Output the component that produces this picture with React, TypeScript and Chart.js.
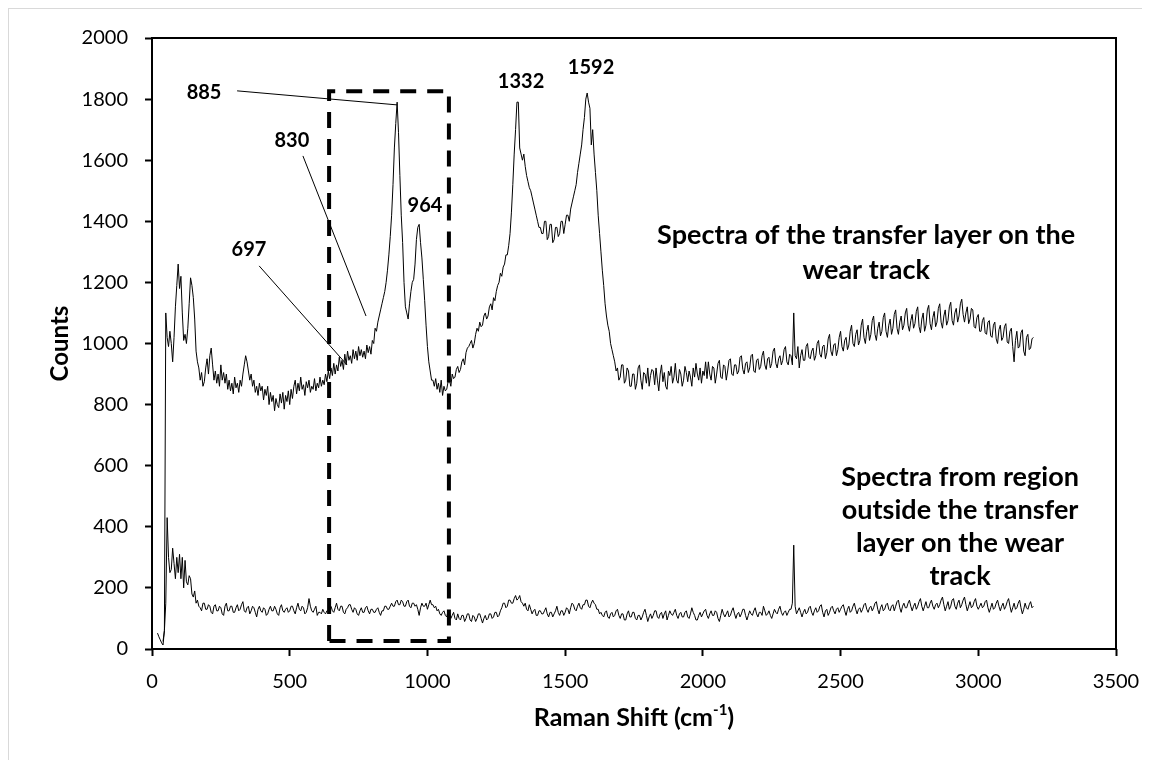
import React, { useEffect, useRef } from "react";
import { Chart, registerables } from "chart.js";

Chart.register(...registerables);

// Raman shift grid (cm-1) of the sampled points
const SHIFT_START = 20;
const SHIFT_STEP = 5;

// Spectra of the transfer layer on the wear track (counts), one row = 50 cm-1
const TRANSFER_COUNTS: (number | null)[] = [
  null, null, null, null, 25, 60, 1100, 1020, 990, 1040,
  1000, 940, 1020, 1120, 1190, 1260, 1180, 1220, 1100, 1010,
  1030, 1000, 1050, 1130, 1215, 1190, 1150, 1080, 975, 940,
  920, 880, 905, 860, 875, 920, 950, 900, 960, 985,
  930, 880, 910, 870, 900, 860, 930, 880, 905, 870,
  900, 850, 880, 845, 870, 835, 890, 855, 870, 840,
  880, 860, 900, 930, 960, 940, 910, 880, 900, 860,
  880, 840, 860, 830, 870, 845, 860, 815, 850, 830,
  860, 800, 840, 810, 830, 780, 820, 800, 790, 835,
  805, 840, 785, 830, 810, 845, 800, 850, 820, 860,
  880, 835, 870, 845, 890, 850, 865, 830, 875, 855,
  880, 840, 860, 850, 885, 845, 870, 855, 890, 860,
  880, 865, 900, 875, 910, 885, 920, 895, 935, 900,
  930, 910, 955, 925, 945, 915, 965, 930, 975, 945,
  960, 935, 980, 950, 975, 945, 990, 960, 980, 955,
  975, 950, 995, 970, 990, 965, 1010, 1000, 1050, 1040,
  1070, 1090, 1110, 1130, 1150, 1170, 1200, 1240, 1290, 1350,
  1420, 1520, 1640, 1720, 1790, 1690, 1550, 1420, 1330, 1200,
  1120, 1100, 1080, 1130, 1170, 1200, 1210, 1260, 1340, 1380,
  1390, 1330, 1280, 1210, 1140, 1060, 990, 940, 910, 880,
  880, 860, 885, 850, 870, 840, 880, 830, 860, 845,
  850, 875, 880, 860, 900, 885, 890, 915, 925, 905,
  915, 940, 950, 930, 970, 985, 990, 1000, 1010, 985,
  1000, 1030, 1050, 1040, 1070, 1055, 1060, 1090, 1100, 1080,
  1090, 1120, 1130, 1110, 1150, 1140, 1170, 1190, 1200, 1230,
  1220, 1250, 1260, 1290, 1290, 1320, 1360, 1430, 1520, 1620,
  1700, 1790, 1790, 1640, 1620, 1600, 1620, 1580, 1550, 1530,
  1510, 1500, 1480, 1460, 1440, 1420, 1400, 1380, 1380, 1360,
  1360, 1400, 1400, 1340, 1350, 1390, 1390, 1330, 1340, 1380,
  1380, 1350, 1360, 1400, 1400, 1360, 1390, 1420, 1420, 1400,
  1440, 1460, 1480, 1500, 1520, 1560, 1590, 1620, 1650, 1700,
  1740, 1800, 1820, 1790, 1770, 1650, 1700, 1620, 1560, 1500,
  1420, 1360, 1300, 1240, 1190, 1130, 1090, 1060, 1040, 1000,
  980, 960, 940, 910, 920, 880, 890, 930, 930, 870,
  880, 920, 910, 860, 860, 900, 900, 850, 870, 920,
  930, 880, 850, 905, 900, 870, 920, 860, 895, 915,
  910, 865, 920, 880, 845, 900, 930, 875, 905, 860,
  850, 910, 895, 925, 870, 890, 935, 880, 870, 915,
  900, 860, 880, 925, 905, 875, 910, 890, 860, 920,
  890, 935, 900, 880, 920, 870, 910, 895, 940, 885,
  940, 900, 880, 925, 920, 870, 900, 935, 945, 890,
  885, 930, 925, 880, 910, 945, 950, 900, 895, 930,
  930, 900, 910, 955, 960, 915, 900, 935, 940, 905,
  920, 960, 965, 910, 905, 945, 950, 915, 925, 960,
  975, 930, 915, 950, 955, 920, 935, 975, 985, 935,
  920, 950, 960, 930, 945, 980, 990, 940, 930, 965,
  960, 930, 1100, 960, 950, 990, 920, 960, 980, 945,
  945, 990, 1000, 955, 950, 975, 985, 945, 960, 1000,
  1010, 965, 955, 990, 995, 950, 970, 1015, 1030, 975,
  960, 995, 1000, 960, 980, 1020, 1040, 990, 975, 1010,
  1020, 980, 995, 1040, 1060, 1000, 990, 1030, 1045, 995,
  1010, 1060, 1080, 1020, 1000, 1040, 1060, 1010, 1030, 1075,
  1090, 1030, 1010, 1050, 1070, 1025, 1040, 1085, 1100, 1040,
  1020, 1060, 1080, 1030, 1050, 1095, 1110, 1050, 1030, 1070,
  1090, 1045, 1060, 1100, 1115, 1060, 1040, 1075, 1095, 1050,
  1065, 1105, 1120, 1055, 1035, 1080, 1100, 1040, 1060, 1110,
  1125, 1065, 1045, 1085, 1105, 1055, 1070, 1115, 1130, 1070,
  1050, 1090, 1110, 1060, 1075, 1120, 1135, 1075, 1060, 1100,
  1115, 1070, 1090, 1130, 1145, 1095, 1070, 1100, 1120, 1065,
  1080, 1115, 1110, 1055, 1050, 1085, 1095, 1040, 1040, 1075,
  1085, 1035, 1030, 1070, 1075, 1025, 1020, 1060, 1070, 1015,
  1000, 1045, 1060, 1010, 1020, 1055, 1065, 1005, 1000, 1040,
  1050, 990, 940, 1010, 1040, 985, 990, 1035, 1045, 975,
  960, 1020, 1030, 980, 985, 1015, 1020,
];

// Spectra from the region outside the transfer layer (counts), one row = 50 cm-1
const OUTSIDE_COUNTS: number[] = [
  52, 40, 30, 20, 13, 60, 150, 430, 300, 250,
  260, 330, 280, 230, 300, 250, 310, 230, 300, 200,
  290, 220, 210, 240, 230, 180, 170, 190, 150, 160,
  140, 135, 125, 150, 150, 130, 130, 145, 140, 120,
  115, 140, 145, 125, 125, 140, 135, 115, 110, 140,
  150, 125, 125, 140, 140, 120, 120, 135, 145, 125,
  130, 145, 155, 125, 120, 135, 140, 115, 125, 140,
  135, 120, 105, 130, 140, 125, 120, 135, 130, 110,
  115, 130, 140, 125, 125, 140, 130, 115, 110, 135,
  145, 125, 120, 130, 135, 120, 125, 140, 140, 125,
  115, 135, 150, 130, 125, 140, 135, 115, 120, 135,
  165, 140, 125, 120, 130, 140, 110, 120, 120, 115,
  130, 120, 115, 125, 125, 140, 140, 125, 120, 135,
  150, 130, 125, 140, 140, 120, 115, 130, 135, 145,
  145, 130, 120, 135, 130, 115, 110, 125, 135, 120,
  120, 135, 140, 125, 115, 130, 130, 120, 120, 130,
  135, 120, 110, 125, 125, 140, 140, 130, 130, 140,
  150, 140, 140, 155, 160, 145, 145, 160, 155, 140,
  140, 155, 160, 140, 135, 150, 150, 140, 145, 130,
  110, 135, 150, 140, 140, 150, 130, 145, 160, 145,
  145, 135, 140, 125, 130, 115, 110, 120, 125, 110,
  105, 125, 120, 100, 110, 120, 100, 95, 115, 100,
  95, 110, 110, 90, 100, 115, 115, 95, 90, 110,
  105, 90, 100, 115, 115, 100, 85, 100, 110, 95,
  100, 115, 115, 100, 105, 120, 120, 105, 110, 125,
  135, 150, 150, 135, 140, 160, 160, 150, 150, 165,
  175, 160, 165, 175, 155, 150, 140, 150, 130, 125,
  145, 130, 115, 125, 130, 110, 110, 125, 125, 115,
  115, 125, 135, 115, 105, 120, 120, 105, 115, 125,
  140, 120, 110, 125, 125, 110, 120, 135, 130, 115,
  135, 150, 145, 130, 125, 140, 150, 135, 130, 145,
  145, 160, 160, 140, 135, 150, 160, 150, 145, 130,
  130, 115, 120, 110, 105, 120, 125, 105, 100, 115,
  120, 105, 110, 125, 130, 110, 100, 115, 115, 95,
  95, 115, 125, 105, 105, 120, 120, 100, 95, 110,
  110, 95, 105, 120, 130, 110, 90, 105, 115, 100,
  110, 125, 125, 105, 100, 115, 120, 100, 115, 125,
  95, 110, 125, 115, 110, 120, 130, 110, 100, 115,
  120, 105, 105, 120, 125, 105, 100, 115, 135, 120,
  110, 95, 95, 110, 120, 105, 115, 125, 130, 110,
  100, 115, 125, 110, 110, 125, 120, 100, 90, 110,
  130, 115, 105, 115, 125, 105, 110, 125, 135, 115,
  100, 115, 120, 105, 115, 130, 130, 110, 95, 110,
  125, 115, 110, 125, 135, 115, 105, 120, 120, 110,
  140, 125, 110, 115, 125, 110, 100, 115, 130, 120,
  115, 130, 140, 120, 110, 120, 125, 110, 120, 130,
  130, 150, 340, 140, 115, 125, 135, 120, 105, 120,
  130, 115, 120, 135, 140, 120, 110, 125, 135, 120,
  125, 140, 145, 120, 105, 125, 130, 110, 120, 135,
  140, 125, 115, 130, 135, 120, 130, 140, 145, 125,
  110, 130, 140, 120, 125, 140, 150, 130, 115, 130,
  135, 120, 130, 145, 150, 130, 120, 135, 140, 125,
  135, 150, 155, 130, 115, 135, 145, 125, 130, 145,
  150, 130, 125, 140, 145, 125, 140, 155, 160, 135,
  120, 140, 150, 135, 135, 150, 160, 140, 125, 140,
  150, 130, 140, 155, 165, 140, 125, 140, 155, 135,
  135, 150, 160, 140, 130, 145, 150, 135, 145, 160,
  170, 145, 125, 140, 155, 130, 140, 160, 165, 140,
  130, 150, 160, 135, 145, 160, 170, 145, 125, 140,
  155, 135, 140, 155, 165, 140, 130, 140, 150, 135,
  140, 155, 160, 135, 120, 135, 150, 130, 135, 150,
  160, 140, 125, 140, 150, 130, 140, 155, 165, 140,
  120, 135, 150, 130, 135, 150, 160, 135, 115, 130,
  150, 135, 130, 145, 155, 135, 140,
];

// Axes
const X_MIN = 0;
const X_MAX = 3500;
const X_STEP = 500;
const Y_MIN = 0;
const Y_MAX = 2000;
const Y_STEP = 200;
const X_TITLE = "Raman Shift (cm";
const X_TITLE_SUP = "-1";
const X_TITLE_END = ")";
const Y_TITLE = "Counts";

// Peak labels
const PEAK_LABELS = ["885", "830", "697", "964", "1332", "1592"];
const PEAK_LABEL_X = [189, 508, 352, 991, 1340, 1594];
const PEAK_LABEL_Y = [1820, 1663, 1309, 1453, 1856, 1902];

// Leader lines from labels to the peaks
const LEADER_885_X = [309, 890];
const LEADER_885_Y = [1827, 1781];
const LEADER_830_X = [548, 777];
const LEADER_830_Y = [1614, 1090];
const LEADER_697_X = [389, 708];
const LEADER_697_Y = [1254, 930];

// Dashed highlight box
const BOX_X = [643, 643, 1078, 1078, 643];
const BOX_Y = [26, 1826, 1826, 26, 26];

// Notes
const TRANSFER_NOTE = ["Spectra of the transfer layer on the", "wear track"];
const TRANSFER_NOTE_X = 2593;
const TRANSFER_NOTE_Y = 1355;
const OUTSIDE_NOTE = ["Spectra from region", "outside the transfer", "layer on the wear", "track"];
const OUTSIDE_NOTE_X = 2934;
const OUTSIDE_NOTE_Y = 563;

const FONT = "Lato, 'Open Sans', sans-serif";

const toPoints = (vals: (number | null)[]) =>
  vals.map((v, i) => ({ x: SHIFT_START + i * SHIFT_STEP, y: v }));
const pairPoints = (xs: number[], ys: number[]) => xs.map((x, i) => ({ x, y: ys[i] }));

const decorPlugin = {
  id: "decor",
  afterDatasetsDraw(chart: any) {
    const { ctx, chartArea, scales } = chart;
    const xs = scales.x;
    const ys = scales.y;
    ctx.save();
    // frame
    ctx.strokeStyle = "#000";
    ctx.lineWidth = 2;
    ctx.strokeRect(chartArea.left, chartArea.top, chartArea.right - chartArea.left, chartArea.bottom - chartArea.top);

    ctx.fillStyle = "#000";
    ctx.textAlign = "center";
    ctx.textBaseline = "middle";
    ctx.font = `bold 20px ${FONT}`;
    PEAK_LABELS.forEach((t, i) => {
      ctx.fillText(t, xs.getPixelForValue(PEAK_LABEL_X[i]), ys.getPixelForValue(PEAK_LABEL_Y[i]));
    });
    ctx.font = `bold 27px ${FONT}`;
    TRANSFER_NOTE.forEach((t, i) => {
      ctx.fillText(t, xs.getPixelForValue(TRANSFER_NOTE_X), ys.getPixelForValue(TRANSFER_NOTE_Y) + i * 35);
    });
    OUTSIDE_NOTE.forEach((t, i) => {
      ctx.fillText(t, xs.getPixelForValue(OUTSIDE_NOTE_X), ys.getPixelForValue(OUTSIDE_NOTE_Y) + i * 33);
    });

    // x axis title with superscript
    const cx = (chartArea.left + chartArea.right) / 2;
    const ty = chartArea.bottom + 69;
    const big = `bold 25px ${FONT}`;
    const small = `bold 15px ${FONT}`;
    ctx.font = big;
    const w1 = ctx.measureText(X_TITLE).width;
    const w3 = ctx.measureText(X_TITLE_END).width;
    ctx.font = small;
    const w2 = ctx.measureText(X_TITLE_SUP).width;
    const start = cx - (w1 + w2 + w3) / 2;
    ctx.textAlign = "left";
    ctx.font = big;
    ctx.fillText(X_TITLE, start, ty);
    ctx.font = small;
    ctx.fillText(X_TITLE_SUP, start + w1, ty - 8);
    ctx.font = big;
    ctx.fillText(X_TITLE_END, start + w1 + w2, ty);

    // y axis title
    ctx.font = `bold 24px ${FONT}`;
    ctx.translate(51, (chartArea.top + chartArea.bottom) / 2);
    ctx.rotate(-Math.PI / 2);
    ctx.textAlign = "center";
    ctx.fillText(Y_TITLE, 0, 0);
    ctx.restore();
  },
};

export default function App() {
  const ref = useRef<HTMLCanvasElement | null>(null);
  useEffect(() => {
    if (!ref.current) return;
    const thin = { borderColor: "#000", borderWidth: 1, pointRadius: 0, fill: false, tension: 0 };
    const chart = new Chart(ref.current, {
      type: "line",
      data: {
        datasets: [
          { label: "Transfer layer", data: toPoints(TRANSFER_COUNTS), ...thin, spanGaps: false },
          { label: "Outside", data: toPoints(OUTSIDE_COUNTS), ...thin },
          { label: "885", data: pairPoints(LEADER_885_X, LEADER_885_Y), ...thin },
          { label: "830", data: pairPoints(LEADER_830_X, LEADER_830_Y), ...thin },
          { label: "697", data: pairPoints(LEADER_697_X, LEADER_697_Y), ...thin },
          {
            label: "box",
            data: pairPoints(BOX_X, BOX_Y),
            borderColor: "#000",
            borderWidth: 4,
            borderDash: [16, 11],
            pointRadius: 0,
            fill: false,
          },
        ],
      },
      options: {
        animation: false,
        responsive: false,
        devicePixelRatio: 1,
        layout: { padding: { top: 29, right: 27, left: 0, bottom: 0 } },
        plugins: { legend: { display: false }, tooltip: { enabled: false } },
        scales: {
          x: {
            type: "linear",
            min: X_MIN,
            max: X_MAX,
            ticks: {
              stepSize: X_STEP,
              color: "#000",
              font: { family: FONT, size: 20 },
              padding: 14,
              maxRotation: 0,
              callback: (v: any) => String(v),
            },
            grid: { display: true, drawOnChartArea: false, drawTicks: true, tickLength: 7, tickColor: "#000", tickWidth: 2 },
            border: { display: false },
            afterFit: (s: any) => {
              s.height = 112;
              s.paddingLeft = 0;
              s.paddingRight = 0;
            },
          },
          y: {
            type: "linear",
            min: Y_MIN,
            max: Y_MAX,
            ticks: {
              stepSize: Y_STEP,
              color: "#000",
              font: { family: FONT, size: 20 },
              padding: 17,
              callback: (v: any) => String(v),
            },
            grid: { display: true, drawOnChartArea: false, drawTicks: true, tickLength: 7, tickColor: "#000", tickWidth: 2 },
            border: { display: false },
            afterFit: (s: any) => {
              s.width = 143;
              s.paddingTop = 0;
              s.paddingBottom = 0;
            },
          },
        },
      },
      plugins: [decorPlugin],
    });
    return () => chart.destroy();
  }, []);
  return (
    <div style={{ width: 1134, height: 752, border: "1px solid #d9d9d9", background: "#fff" }}>
      <canvas ref={ref} width={1134} height={752} style={{ display: "block" }} />
    </div>
  );
}
